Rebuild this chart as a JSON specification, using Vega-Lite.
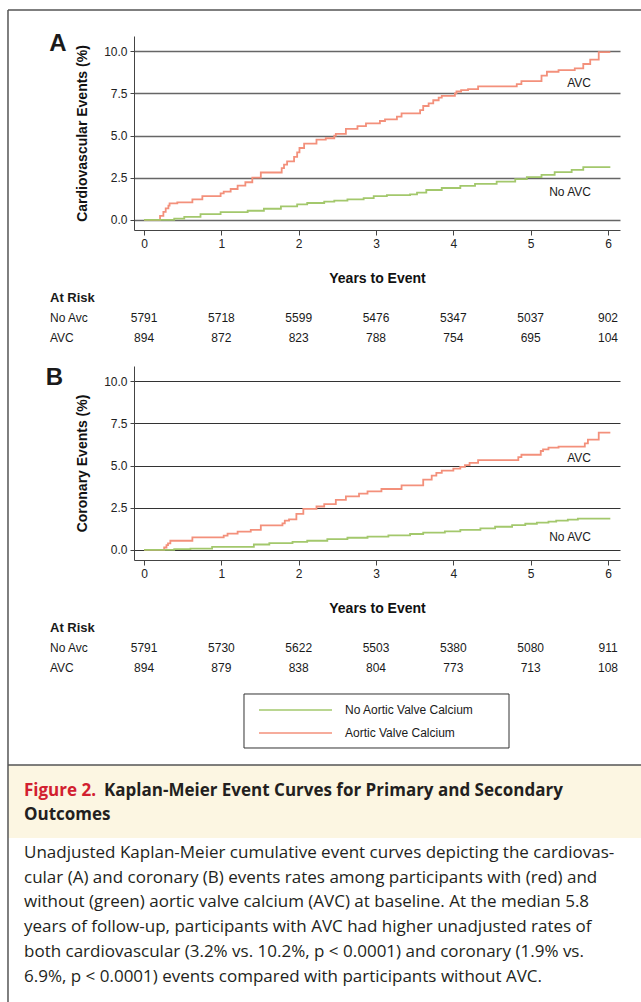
{
  "$schema": "https://vega.github.io/schema/vega-lite/v6.json",
  "padding": 0,
  "background": "white",
  "bounds": "flush",
  "spacing": 136,
  "config": {
    "view": {"stroke": null},
    "font": "Liberation Sans",
    "axis": {
      "domainColor": "#444", "domainWidth": 1, "tickColor": "#444", "tickWidth": 1,
      "labelFont": "Liberation Sans", "labelFontSize": 12, "labelColor": "#222",
      "titleFont": "Liberation Sans", "titleFontWeight": "bold", "titleColor": "#111"
    },
    "text": {"font": "Liberation Sans", "color": "#1a1a1a"}
  },
  "datasets": {
    "one": [{}],
    "km": [
      {"panel": "A", "group": "AVC", "t": 0, "pct": 0},
      {"panel": "A", "group": "AVC", "t": 0.207, "pct": 0.24},
      {"panel": "A", "group": "AVC", "t": 0.25, "pct": 0.48},
      {"panel": "A", "group": "AVC", "t": 0.28, "pct": 0.68},
      {"panel": "A", "group": "AVC", "t": 0.315, "pct": 0.84},
      {"panel": "A", "group": "AVC", "t": 0.33, "pct": 0.98},
      {"panel": "A", "group": "AVC", "t": 0.43, "pct": 1.04},
      {"panel": "A", "group": "AVC", "t": 0.625, "pct": 1.22},
      {"panel": "A", "group": "AVC", "t": 0.754, "pct": 1.41},
      {"panel": "A", "group": "AVC", "t": 0.99, "pct": 1.57},
      {"panel": "A", "group": "AVC", "t": 1.03, "pct": 1.67},
      {"panel": "A", "group": "AVC", "t": 1.12, "pct": 1.83},
      {"panel": "A", "group": "AVC", "t": 1.21, "pct": 2.03},
      {"panel": "A", "group": "AVC", "t": 1.31, "pct": 2.23},
      {"panel": "A", "group": "AVC", "t": 1.40, "pct": 2.51},
      {"panel": "A", "group": "AVC", "t": 1.51, "pct": 2.81},
      {"panel": "A", "group": "AVC", "t": 1.78, "pct": 3.07},
      {"panel": "A", "group": "AVC", "t": 1.81, "pct": 3.27},
      {"panel": "A", "group": "AVC", "t": 1.85, "pct": 3.47},
      {"panel": "A", "group": "AVC", "t": 1.94, "pct": 3.73},
      {"panel": "A", "group": "AVC", "t": 1.98, "pct": 4.0},
      {"panel": "A", "group": "AVC", "t": 2.01, "pct": 4.26},
      {"panel": "A", "group": "AVC", "t": 2.07, "pct": 4.52},
      {"panel": "A", "group": "AVC", "t": 2.23, "pct": 4.76},
      {"panel": "A", "group": "AVC", "t": 2.35, "pct": 4.84},
      {"panel": "A", "group": "AVC", "t": 2.46, "pct": 5.0},
      {"panel": "A", "group": "AVC", "t": 2.48, "pct": 5.1},
      {"panel": "A", "group": "AVC", "t": 2.61, "pct": 5.4},
      {"panel": "A", "group": "AVC", "t": 2.76, "pct": 5.56},
      {"panel": "A", "group": "AVC", "t": 2.87, "pct": 5.72},
      {"panel": "A", "group": "AVC", "t": 3.05, "pct": 5.86},
      {"panel": "A", "group": "AVC", "t": 3.116, "pct": 5.96},
      {"panel": "A", "group": "AVC", "t": 3.27, "pct": 6.12},
      {"panel": "A", "group": "AVC", "t": 3.33, "pct": 6.31},
      {"panel": "A", "group": "AVC", "t": 3.57, "pct": 6.51},
      {"panel": "A", "group": "AVC", "t": 3.61, "pct": 6.75},
      {"panel": "A", "group": "AVC", "t": 3.68, "pct": 6.91},
      {"panel": "A", "group": "AVC", "t": 3.74, "pct": 7.09},
      {"panel": "A", "group": "AVC", "t": 3.81, "pct": 7.25},
      {"panel": "A", "group": "AVC", "t": 3.85, "pct": 7.35},
      {"panel": "A", "group": "AVC", "t": 4.02, "pct": 7.5},
      {"panel": "A", "group": "AVC", "t": 4.04, "pct": 7.61},
      {"panel": "A", "group": "AVC", "t": 4.1, "pct": 7.69},
      {"panel": "A", "group": "AVC", "t": 4.19, "pct": 7.75},
      {"panel": "A", "group": "AVC", "t": 4.32, "pct": 7.91},
      {"panel": "A", "group": "AVC", "t": 4.82, "pct": 8.05},
      {"panel": "A", "group": "AVC", "t": 4.88, "pct": 8.23},
      {"panel": "A", "group": "AVC", "t": 5.14, "pct": 8.55},
      {"panel": "A", "group": "AVC", "t": 5.21, "pct": 8.78},
      {"panel": "A", "group": "AVC", "t": 5.36, "pct": 8.88},
      {"panel": "A", "group": "AVC", "t": 5.57, "pct": 8.98},
      {"panel": "A", "group": "AVC", "t": 5.68, "pct": 9.24},
      {"panel": "A", "group": "AVC", "t": 5.77, "pct": 9.5},
      {"panel": "A", "group": "AVC", "t": 5.88, "pct": 9.94},
      {"panel": "A", "group": "AVC", "t": 6.03, "pct": 9.94},
      {"panel": "A", "group": "No AVC", "t": 0, "pct": 0},
      {"panel": "A", "group": "No AVC", "t": 0.39, "pct": 0.08},
      {"panel": "A", "group": "No AVC", "t": 0.52, "pct": 0.18},
      {"panel": "A", "group": "No AVC", "t": 0.73, "pct": 0.34},
      {"panel": "A", "group": "No AVC", "t": 0.99, "pct": 0.46},
      {"panel": "A", "group": "No AVC", "t": 1.34, "pct": 0.54},
      {"panel": "A", "group": "No AVC", "t": 1.55, "pct": 0.66},
      {"panel": "A", "group": "No AVC", "t": 1.77, "pct": 0.8},
      {"panel": "A", "group": "No AVC", "t": 1.98, "pct": 0.92},
      {"panel": "A", "group": "No AVC", "t": 2.11, "pct": 1.0},
      {"panel": "A", "group": "No AVC", "t": 2.33, "pct": 1.08},
      {"panel": "A", "group": "No AVC", "t": 2.46, "pct": 1.14},
      {"panel": "A", "group": "No AVC", "t": 2.63, "pct": 1.22},
      {"panel": "A", "group": "No AVC", "t": 2.84, "pct": 1.29},
      {"panel": "A", "group": "No AVC", "t": 2.97, "pct": 1.41},
      {"panel": "A", "group": "No AVC", "t": 3.14, "pct": 1.47},
      {"panel": "A", "group": "No AVC", "t": 3.44, "pct": 1.51},
      {"panel": "A", "group": "No AVC", "t": 3.53, "pct": 1.61},
      {"panel": "A", "group": "No AVC", "t": 3.65, "pct": 1.77},
      {"panel": "A", "group": "No AVC", "t": 3.85, "pct": 1.89},
      {"panel": "A", "group": "No AVC", "t": 4.09, "pct": 2.01},
      {"panel": "A", "group": "No AVC", "t": 4.28, "pct": 2.13},
      {"panel": "A", "group": "No AVC", "t": 4.56, "pct": 2.27},
      {"panel": "A", "group": "No AVC", "t": 4.8, "pct": 2.41},
      {"panel": "A", "group": "No AVC", "t": 4.95, "pct": 2.53},
      {"panel": "A", "group": "No AVC", "t": 5.14, "pct": 2.67},
      {"panel": "A", "group": "No AVC", "t": 5.31, "pct": 2.83},
      {"panel": "A", "group": "No AVC", "t": 5.53, "pct": 2.97},
      {"panel": "A", "group": "No AVC", "t": 5.68, "pct": 3.13},
      {"panel": "A", "group": "No AVC", "t": 6.03, "pct": 3.13},
      {"panel": "B", "group": "AVC", "t": 0, "pct": 0},
      {"panel": "B", "group": "AVC", "t": 0.26, "pct": 0.14},
      {"panel": "B", "group": "AVC", "t": 0.29, "pct": 0.28},
      {"panel": "B", "group": "AVC", "t": 0.31, "pct": 0.38},
      {"panel": "B", "group": "AVC", "t": 0.34, "pct": 0.54},
      {"panel": "B", "group": "AVC", "t": 0.625, "pct": 0.74},
      {"panel": "B", "group": "AVC", "t": 1.03, "pct": 0.84},
      {"panel": "B", "group": "AVC", "t": 1.08, "pct": 0.96},
      {"panel": "B", "group": "AVC", "t": 1.21, "pct": 1.08},
      {"panel": "B", "group": "AVC", "t": 1.38, "pct": 1.18},
      {"panel": "B", "group": "AVC", "t": 1.51, "pct": 1.45},
      {"panel": "B", "group": "AVC", "t": 1.79, "pct": 1.57},
      {"panel": "B", "group": "AVC", "t": 1.82, "pct": 1.73},
      {"panel": "B", "group": "AVC", "t": 1.875, "pct": 1.81},
      {"panel": "B", "group": "AVC", "t": 1.97, "pct": 2.13},
      {"panel": "B", "group": "AVC", "t": 2.06, "pct": 2.43},
      {"panel": "B", "group": "AVC", "t": 2.23, "pct": 2.57},
      {"panel": "B", "group": "AVC", "t": 2.33, "pct": 2.71},
      {"panel": "B", "group": "AVC", "t": 2.48, "pct": 2.97},
      {"panel": "B", "group": "AVC", "t": 2.61, "pct": 3.17},
      {"panel": "B", "group": "AVC", "t": 2.78, "pct": 3.33},
      {"panel": "B", "group": "AVC", "t": 2.89, "pct": 3.47},
      {"panel": "B", "group": "AVC", "t": 3.07, "pct": 3.61},
      {"panel": "B", "group": "AVC", "t": 3.33, "pct": 3.82},
      {"panel": "B", "group": "AVC", "t": 3.61, "pct": 4.16},
      {"panel": "B", "group": "AVC", "t": 3.72, "pct": 4.4},
      {"panel": "B", "group": "AVC", "t": 3.78, "pct": 4.56},
      {"panel": "B", "group": "AVC", "t": 3.85, "pct": 4.7},
      {"panel": "B", "group": "AVC", "t": 4.0, "pct": 4.82},
      {"panel": "B", "group": "AVC", "t": 4.09, "pct": 4.92},
      {"panel": "B", "group": "AVC", "t": 4.15, "pct": 5.02},
      {"panel": "B", "group": "AVC", "t": 4.21, "pct": 5.16},
      {"panel": "B", "group": "AVC", "t": 4.32, "pct": 5.32},
      {"panel": "B", "group": "AVC", "t": 4.84, "pct": 5.5},
      {"panel": "B", "group": "AVC", "t": 4.88, "pct": 5.64},
      {"panel": "B", "group": "AVC", "t": 5.13, "pct": 5.86},
      {"panel": "B", "group": "AVC", "t": 5.16, "pct": 5.96},
      {"panel": "B", "group": "AVC", "t": 5.23, "pct": 6.06},
      {"panel": "B", "group": "AVC", "t": 5.36, "pct": 6.12},
      {"panel": "B", "group": "AVC", "t": 5.7, "pct": 6.31},
      {"panel": "B", "group": "AVC", "t": 5.74, "pct": 6.53},
      {"panel": "B", "group": "AVC", "t": 5.88, "pct": 6.95},
      {"panel": "B", "group": "AVC", "t": 6.03, "pct": 6.95},
      {"panel": "B", "group": "No AVC", "t": 0, "pct": 0},
      {"panel": "B", "group": "No AVC", "t": 0.39, "pct": 0.04},
      {"panel": "B", "group": "No AVC", "t": 0.6, "pct": 0.08},
      {"panel": "B", "group": "No AVC", "t": 0.88, "pct": 0.18},
      {"panel": "B", "group": "No AVC", "t": 1.42, "pct": 0.32},
      {"panel": "B", "group": "No AVC", "t": 1.62, "pct": 0.4},
      {"panel": "B", "group": "No AVC", "t": 1.92, "pct": 0.48},
      {"panel": "B", "group": "No AVC", "t": 2.11, "pct": 0.54},
      {"panel": "B", "group": "No AVC", "t": 2.37, "pct": 0.64},
      {"panel": "B", "group": "No AVC", "t": 2.63, "pct": 0.72},
      {"panel": "B", "group": "No AVC", "t": 2.89, "pct": 0.78},
      {"panel": "B", "group": "No AVC", "t": 3.16, "pct": 0.86},
      {"panel": "B", "group": "No AVC", "t": 3.44, "pct": 0.94},
      {"panel": "B", "group": "No AVC", "t": 3.61, "pct": 1.02},
      {"panel": "B", "group": "No AVC", "t": 3.89, "pct": 1.1},
      {"panel": "B", "group": "No AVC", "t": 4.09, "pct": 1.18},
      {"panel": "B", "group": "No AVC", "t": 4.35, "pct": 1.27},
      {"panel": "B", "group": "No AVC", "t": 4.54, "pct": 1.37},
      {"panel": "B", "group": "No AVC", "t": 4.76, "pct": 1.47},
      {"panel": "B", "group": "No AVC", "t": 4.93, "pct": 1.55},
      {"panel": "B", "group": "No AVC", "t": 5.08, "pct": 1.61},
      {"panel": "B", "group": "No AVC", "t": 5.23, "pct": 1.67},
      {"panel": "B", "group": "No AVC", "t": 5.33, "pct": 1.73},
      {"panel": "B", "group": "No AVC", "t": 5.48, "pct": 1.79},
      {"panel": "B", "group": "No AVC", "t": 5.61, "pct": 1.85},
      {"panel": "B", "group": "No AVC", "t": 6.03, "pct": 1.85}
    ],
    "risk": [
      {"panel": "A", "group": "No Avc", "t": 0, "n": 5791},
      {"panel": "A", "group": "No Avc", "t": 1, "n": 5718},
      {"panel": "A", "group": "No Avc", "t": 2, "n": 5599},
      {"panel": "A", "group": "No Avc", "t": 3, "n": 5476},
      {"panel": "A", "group": "No Avc", "t": 4, "n": 5347},
      {"panel": "A", "group": "No Avc", "t": 5, "n": 5037},
      {"panel": "A", "group": "No Avc", "t": 6, "n": 902},
      {"panel": "A", "group": "AVC", "t": 0, "n": 894},
      {"panel": "A", "group": "AVC", "t": 1, "n": 872},
      {"panel": "A", "group": "AVC", "t": 2, "n": 823},
      {"panel": "A", "group": "AVC", "t": 3, "n": 788},
      {"panel": "A", "group": "AVC", "t": 4, "n": 754},
      {"panel": "A", "group": "AVC", "t": 5, "n": 695},
      {"panel": "A", "group": "AVC", "t": 6, "n": 104},
      {"panel": "B", "group": "No Avc", "t": 0, "n": 5791},
      {"panel": "B", "group": "No Avc", "t": 1, "n": 5730},
      {"panel": "B", "group": "No Avc", "t": 2, "n": 5622},
      {"panel": "B", "group": "No Avc", "t": 3, "n": 5503},
      {"panel": "B", "group": "No Avc", "t": 4, "n": 5380},
      {"panel": "B", "group": "No Avc", "t": 5, "n": 5080},
      {"panel": "B", "group": "No Avc", "t": 6, "n": 911},
      {"panel": "B", "group": "AVC", "t": 0, "n": 894},
      {"panel": "B", "group": "AVC", "t": 1, "n": 879},
      {"panel": "B", "group": "AVC", "t": 2, "n": 838},
      {"panel": "B", "group": "AVC", "t": 3, "n": 804},
      {"panel": "B", "group": "AVC", "t": 4, "n": 773},
      {"panel": "B", "group": "AVC", "t": 5, "n": 713},
      {"panel": "B", "group": "AVC", "t": 6, "n": 108}
    ]
  },
  "vconcat": [
    {
      "width": 486,
      "height": 194,
      "layer": [
        {"data": {"name": "km"},
         "transform": [{"filter": "datum.panel === 'A'"}],
         "mark": {"type": "line", "interpolate": "step-after", "strokeWidth": 1.8},
         "encoding": {
           "x": {"field": "t", "type": "quantitative",
                 "scale": {"domain": [-0.13, 6.155], "nice": false, "zero": false},
                 "axis": {"values": [0, 1, 2, 3, 4, 5, 6], "format": "d", "tickSize": 5, "labelPadding": 3, "grid": false,
                          "title": "Years to Event", "titleFontSize": 14, "titleY": 48, "titleBaseline": "middle"}},
           "y": {"field": "pct", "type": "quantitative",
                 "scale": {"domain": [-0.6, 10.9], "nice": false, "zero": false},
                 "axis": {"values": [0, 2.5, 5, 7.5, 10], "format": ".1f", "grid": true, "gridColor": "#666", "gridWidth": 1.6,
                          "tickSize": 4, "labelPadding": 3, "title": "Cardiovascular Events (%)", "titleFontSize": 14, "titlePadding": 14}},
           "color": {"field": "group", "type": "nominal", "legend": null,
                     "scale": {"domain": ["No AVC", "AVC"], "range": ["#a3c86c", "#f3907b"]}},
           "detail": {"field": "group"}
         }},
        {"data": {"name": "one"}, "mark": {"type": "rect", "fill": "white", "opacity": 0},
         "encoding": {"x": {"datum": -1.8629}, "x2": {"datum": 6.4266}, "y": {"datum": 13.034}, "y2": {"datum": -46.3628}}},
        {"data": {"name": "one"}, "mark": {"type": "rect", "fill": "#fcf6e2"},
         "encoding": {"x": {"datum": -1.7595}, "x2": {"datum": 6.4266}, "y": {"datum": -32.3138}, "y2": {"datum": -36.641}}},
        {"data": {"name": "one"}, "mark": {"type": "rule", "stroke": "#555", "strokeWidth": 1.5},
         "encoding": {"x": {"datum": -1.7595}, "x2": {"datum": 6.4266}, "y": {"datum": 12.4413}}},
        {"data": {"name": "one"}, "mark": {"type": "rule", "stroke": "#555", "strokeWidth": 1.5},
         "encoding": {"x": {"datum": -1.7595}, "x2": {"datum": 6.4266}, "y": {"datum": -32.3138}}},
        {"data": {"name": "one"}, "mark": {"type": "rule", "stroke": "#555", "strokeWidth": 1.5},
         "encoding": {"x": {"datum": -1.7595}, "y": {"datum": 12.4413}, "y2": {"datum": -46.3628}}},
        {"data": {"name": "one"}, "mark": {"type": "text", "fontSize": 24, "fontWeight": "bold", "align": "center", "baseline": "middle"},
         "encoding": {"x": {"datum": -1.113}, "y": {"datum": 10.455}, "text": {"value": "A"}}},
        {"data": {"name": "one"}, "mark": {"type": "text", "fontSize": 12, "align": "right", "baseline": "middle"},
         "encoding": {"x": {"datum": 5.78}, "y": {"datum": 8.114}, "text": {"value": "AVC"}}},
        {"data": {"name": "one"}, "mark": {"type": "text", "fontSize": 12, "align": "right", "baseline": "middle"},
         "encoding": {"x": {"datum": 5.78}, "y": {"datum": 1.652}, "text": {"value": "No AVC"}}},
        {"data": {"name": "one"}, "mark": {"type": "text", "fontSize": 13, "fontWeight": "bold", "align": "left", "baseline": "middle"},
         "encoding": {"x": {"datum": -1.2163}, "y": {"datum": -4.631}, "text": {"value": "At Risk"}}},
        {"data": {"name": "one"}, "mark": {"type": "text", "fontSize": 12, "align": "left", "baseline": "middle"},
         "encoding": {"x": {"datum": -1.2163}, "y": {"datum": -5.817}, "text": {"value": "No Avc"}}},
        {"data": {"name": "one"}, "mark": {"type": "text", "fontSize": 12, "align": "left", "baseline": "middle"},
         "encoding": {"x": {"datum": -1.2163}, "y": {"datum": -7.002}, "text": {"value": "AVC"}}},
        {"data": {"name": "risk"},
         "transform": [{"filter": "datum.panel === 'A' && datum.group === 'No Avc'"}],
         "mark": {"type": "text", "fontSize": 12, "align": "center", "baseline": "middle"},
         "encoding": {"x": {"field": "t", "type": "quantitative"}, "y": {"datum": -5.817}, "text": {"field": "n", "type": "nominal"}}},
        {"data": {"name": "risk"},
         "transform": [{"filter": "datum.panel === 'A' && datum.group === 'AVC'"}],
         "mark": {"type": "text", "fontSize": 12, "align": "center", "baseline": "middle"},
         "encoding": {"x": {"field": "t", "type": "quantitative"}, "y": {"datum": -7.002}, "text": {"field": "n", "type": "nominal"}}},
        {"data": {"name": "one"}, "mark": {"type": "text", "font": "Open Sans", "fontSize": 17, "fontWeight": "bold", "color": "#d2202f", "align": "left", "baseline": "middle"},
         "encoding": {"x": {"datum": -1.5525}, "y": {"datum": -33.855}, "text": {"value": "Figure 2."}}},
        {"data": {"name": "one"}, "mark": {"type": "text", "font": "Open Sans", "fontSize": 17, "fontWeight": "bold", "color": "#231f20", "align": "left", "baseline": "middle"},
         "encoding": {"x": {"datum": -0.5180}, "y": {"datum": -33.855}, "text": {"value": "Kaplan-Meier Event Curves for Primary and Secondary"}}},
        {"data": {"name": "one"}, "mark": {"type": "text", "font": "Open Sans", "fontSize": 17, "fontWeight": "bold", "color": "#231f20", "align": "left", "baseline": "middle"},
         "encoding": {"x": {"datum": -1.5525}, "y": {"datum": -35.278}, "text": {"value": "Outcomes"}}},
        {"data": {"name": "one"}, "mark": {"type": "text", "font": "Open Sans", "fontSize": 17, "color": "#231f20", "align": "left", "baseline": "middle", "lineHeight": 24.7},
         "encoding": {"x": {"datum": -1.5525}, "y": {"datum": -37.531},
           "text": {"value": [
             "Unadjusted Kaplan-Meier cumulative event curves depicting the cardiovas-",
             "cular (A) and coronary (B) events rates among participants with (red) and",
             "without (green) aortic valve calcium (AVC) at baseline. At the median 5.8",
             "years of follow-up, participants with AVC had higher unadjusted rates of",
             "both cardiovascular (3.2% vs. 10.2%, p < 0.0001) and coronary (1.9% vs.",
             "6.9%, p < 0.0001) events compared with participants without AVC."
           ]}}}
      ]
    },
    {
      "width": 486,
      "height": 194,
      "layer": [
        {"data": {"name": "km"},
         "transform": [{"filter": "datum.panel === 'B'"}],
         "mark": {"type": "line", "interpolate": "step-after", "strokeWidth": 1.8},
         "encoding": {
           "x": {"field": "t", "type": "quantitative",
                 "scale": {"domain": [-0.13, 6.155], "nice": false, "zero": false},
                 "axis": {"values": [0, 1, 2, 3, 4, 5, 6], "format": "d", "tickSize": 5, "labelPadding": 3, "grid": false,
                          "title": "Years to Event", "titleFontSize": 14, "titleY": 48, "titleBaseline": "middle"}},
           "y": {"field": "pct", "type": "quantitative",
                 "scale": {"domain": [-0.6, 10.9], "nice": false, "zero": false},
                 "axis": {"values": [0, 2.5, 5, 7.5, 10], "format": ".1f", "grid": true, "gridColor": "#333", "gridWidth": 1.2,
                          "tickSize": 4, "labelPadding": 3, "title": "Coronary Events (%)", "titleFontSize": 14, "titlePadding": 14}},
           "color": {"field": "group", "type": "nominal", "legend": null,
                     "scale": {"domain": ["No AVC", "AVC"], "range": ["#a3c86c", "#f3907b"]}},
           "detail": {"field": "group"}
         }},
        {"data": {"name": "one"}, "mark": {"type": "text", "fontSize": 24, "fontWeight": "bold", "align": "center", "baseline": "middle"},
         "encoding": {"x": {"datum": -1.158}, "y": {"datum": 10.16}, "text": {"value": "B"}}},
        {"data": {"name": "one"}, "mark": {"type": "text", "fontSize": 12, "align": "right", "baseline": "middle"},
         "encoding": {"x": {"datum": 5.78}, "y": {"datum": 5.446}, "text": {"value": "AVC"}}},
        {"data": {"name": "one"}, "mark": {"type": "text", "fontSize": 12, "align": "right", "baseline": "middle"},
         "encoding": {"x": {"datum": 5.78}, "y": {"datum": 0.763}, "text": {"value": "No AVC"}}},
        {"data": {"name": "one"}, "mark": {"type": "text", "fontSize": 13, "fontWeight": "bold", "align": "left", "baseline": "middle"},
         "encoding": {"x": {"datum": -1.2163}, "y": {"datum": -4.631}, "text": {"value": "At Risk"}}},
        {"data": {"name": "one"}, "mark": {"type": "text", "fontSize": 12, "align": "left", "baseline": "middle"},
         "encoding": {"x": {"datum": -1.2163}, "y": {"datum": -5.817}, "text": {"value": "No Avc"}}},
        {"data": {"name": "one"}, "mark": {"type": "text", "fontSize": 12, "align": "left", "baseline": "middle"},
         "encoding": {"x": {"datum": -1.2163}, "y": {"datum": -7.002}, "text": {"value": "AVC"}}},
        {"data": {"name": "risk"},
         "transform": [{"filter": "datum.panel === 'B' && datum.group === 'No Avc'"}],
         "mark": {"type": "text", "fontSize": 12, "align": "center", "baseline": "middle"},
         "encoding": {"x": {"field": "t", "type": "quantitative"}, "y": {"datum": -5.817}, "text": {"field": "n", "type": "nominal"}}},
        {"data": {"name": "risk"},
         "transform": [{"filter": "datum.panel === 'B' && datum.group === 'AVC'"}],
         "mark": {"type": "text", "fontSize": 12, "align": "center", "baseline": "middle"},
         "encoding": {"x": {"field": "t", "type": "quantitative"}, "y": {"datum": -7.002}, "text": {"field": "n", "type": "nominal"}}},
        {"data": {"name": "one"}, "mark": {"type": "rect", "fill": "white", "stroke": "#333", "strokeWidth": 1},
         "encoding": {"x": {"datum": 1.2925}, "x2": {"datum": 4.7196}, "y": {"datum": -8.543}, "y2": {"datum": -11.744}}},
        {"data": {"name": "one"}, "mark": {"type": "rule", "strokeWidth": 1.5},
         "encoding": {"x": {"datum": 1.4865}, "x2": {"datum": 2.4306}, "y": {"datum": -9.492}, "color": {"datum": "No AVC", "legend": null}}},
        {"data": {"name": "one"}, "mark": {"type": "rule", "strokeWidth": 1.5},
         "encoding": {"x": {"datum": 1.4865}, "x2": {"datum": 2.4306}, "y": {"datum": -10.855}, "color": {"datum": "AVC", "legend": null}}},
        {"data": {"name": "one"}, "mark": {"type": "text", "fontSize": 12, "align": "left", "baseline": "middle"},
         "encoding": {"x": {"datum": 2.5987}, "y": {"datum": -9.492}, "text": {"value": "No Aortic Valve Calcium"}}},
        {"data": {"name": "one"}, "mark": {"type": "text", "fontSize": 12, "align": "left", "baseline": "middle"},
         "encoding": {"x": {"datum": 2.5987}, "y": {"datum": -10.855}, "text": {"value": "Aortic Valve Calcium"}}}
      ]
    }
  ]
}
